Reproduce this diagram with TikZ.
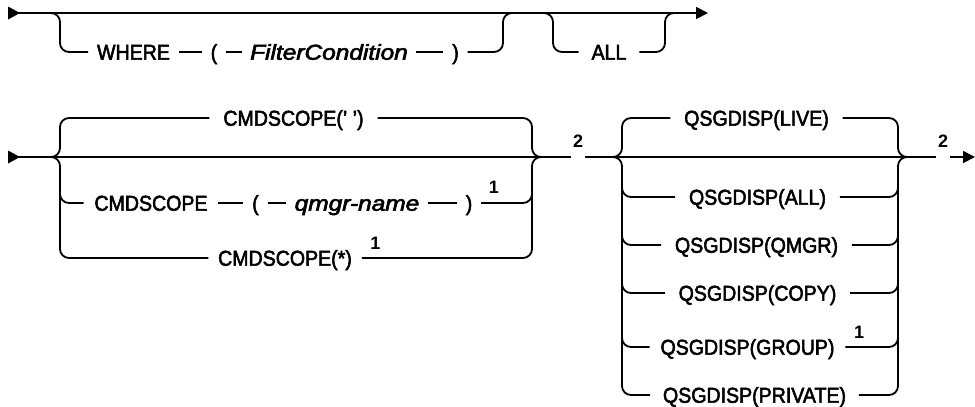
\documentclass[tikz,border=0pt]{standalone}
\usepackage{fontspec}
\setmainfont{Liberation Sans}[FakeStretch=0.91, FakeBold=2.5]
\newfontfamily\fnfont{Liberation Sans Bold}
\usepackage{graphicx}
\usetikzlibrary{arrows.meta}
\begin{document}
\begin{tikzpicture}[x=1pt,y=-1pt,line width=1.8pt,
  rc/.style={rounded corners=9pt},
  base/.style={font=\fontsize{21.5}{24}\selectfont, text height=15.4pt, text depth=0pt, inner ysep=0pt},
  kw/.style={base, inner xsep=13pt},
  pn/.style={base, inner xsep=8pt},
  var/.style={base, font=\fontsize{21.5}{24}\selectfont\itshape, inner xsep=8pt},
  fn/.style={font=\fontsize{18}{20}\fnfont, inner sep=0pt, anchor=base},
  endtip/.style={-{Triangle[length=12pt,width=12pt]}},
  tri/.style={fill=black, line width=0pt}
]
\useasboundingbox (0,0) rectangle (975,407);

% ---------------- Row 1 ----------------
\coordinate (s1) at (8,13);
\coordinate (e1) at (708,13);
\coordinate (w1) at (60,13);
\coordinate (w2) at (503,13);
\coordinate (a1) at (553,13);
\coordinate (a2) at (665,13);

\node[kw, inner xsep=8pt] (where) at (133.5,52) {WHERE};
\node[pn] (lp1) at (214,52) {(};
\node[var, inner xsep=7pt] (fc) at (329,52) {\scalebox{1.25}[1]{FilterCondition}};
\node[pn] (rp1) at (455.5,52) {)};
\node[kw, inner xsep=12pt] (all) at (609,52) {ALL};

\draw[endtip] (s1) -- (e1);
\fill[tri] (s1) -- ++(0,-6.5) -- ++(12,6.5) -- ++(-12,6.5) -- cycle;
\draw[rc] ([xshift=-10pt]w1) -- (w1) -- (w1 |- where.west) -- (where.west);
\draw (where.east) -- (lp1.west);
\draw (lp1.east) -- (fc.west);
\draw (fc.east) -- (rp1.west);
\draw[rc] (rp1.east) -- (w2 |- rp1.east) -- (w2) -- ([xshift=10pt]w2);
\draw[rc] ([xshift=-10pt]a1) -- (a1) -- (a1 |- all.west) -- (all.west);
\draw[rc] (all.east) -- (a2 |- all.east) -- (a2) -- ([xshift=10pt]a2);

% ---------------- Row 2 ----------------
\coordinate (s2) at (8,157);
\coordinate (e2) at (975,157);
\coordinate (c1) at (60,157);
\coordinate (c2) at (532,157);
\coordinate (q1) at (622,157);
\coordinate (q2) at (898,157);

\node[fn, inner xsep=1pt] (fa) at (578,147) {2};
\node[fn, inner xsep=1pt] (fb) at (943,147) {2};

\draw (s2) -- (fa.west |- s2);
\fill[tri] (s2) -- ++(0,-6.5) -- ++(12,6.5) -- ++(-12,6.5) -- cycle;
\draw (fa.east |- s2) -- (fb.west |- s2);
\draw[endtip] (fb.east |- s2) -- (e2);

% CMDSCOPE choices
\node[kw] (cs0) at (293.5,118) {CMDSCOPE(' ')};
\node[kw, inner xsep=10pt] (cs1) at (151,203) {CMDSCOPE};
\node[pn] (lp2) at (255.5,203) {(};
\node[var] (qm) at (357,203) {\scalebox{1.25}[1]{qmgr-name}};
\node[pn] (rp2) at (469,203) {)};
\node[fn] (f1) at (494,193) {1};
\node[kw, inner xsep=9pt] (cs2) at (285,258) {CMDSCOPE(*)};
\node[fn] (f2) at (375.5,249) {1};

\draw[rc] ([xshift=-10pt]c1) -- (c1) -- (c1 |- cs0.west) -- (cs0.west);
\draw[rc] (cs0.east) -- (c2 |- cs0.east) -- (c2) -- ([xshift=10pt]c2);
\draw[rc] ([xshift=-10pt]c1) -- (c1) -- (c1 |- cs2.west) -- (cs2.west);
\draw[rc] (cs2.east) -- (c2 |- cs2.east) -- (c2) -- ([xshift=10pt]c2);
\draw[rc] ([yshift=-12pt]c1) -- (c1 |- cs1.west) -- (cs1.west);
\draw (cs1.east) -- (lp2.west);
\draw (lp2.east) -- (qm.west);
\draw (qm.east) -- (rp2.west);
\draw[rc] (rp2.east) -- (c2 |- rp2.east) -- ([yshift=-12pt]c2);

% QSGDISP choices
\node[kw] (qlive) at (756.5,118) {QSGDISP(LIVE)};
\node[kw] (qall) at (757.5,197) {QSGDISP(ALL)};
\node[kw] (qqmgr) at (756.5,245) {QSGDISP(QMGR)};
\node[kw] (qcopy) at (757.5,293) {QSGDISP(COPY)};
\node[kw, inner xsep=10pt] (qgroup) at (747.5,347) {QSGDISP(GROUP)};
\node[fn] (f3) at (859,338) {1};
\node[kw, inner xsep=12pt] (qpriv) at (754.5,395) {QSGDISP(PRIVATE)};

\draw[rc] ([xshift=-10pt]q1) -- (q1) -- (q1 |- qlive.west) -- (qlive.west);
\draw[rc] (qlive.east) -- (q2 |- qlive.east) -- (q2) -- ([xshift=10pt]q2);
\draw[rc] ([xshift=-10pt]q1) -- (q1) -- (q1 |- qpriv.west) -- (qpriv.west);
\draw[rc] (qpriv.east) -- (q2 |- qpriv.east) -- (q2) -- ([xshift=10pt]q2);
\foreach \n in {qall,qqmgr,qcopy,qgroup}{
  \draw[rc] ([yshift=-12pt]q1) -- (q1 |- \n.west) -- (\n.west);
  \draw[rc] (\n.east) -- (q2 |- \n.east) -- ([yshift=-12pt]q2);
}
\end{tikzpicture}
\end{document}
